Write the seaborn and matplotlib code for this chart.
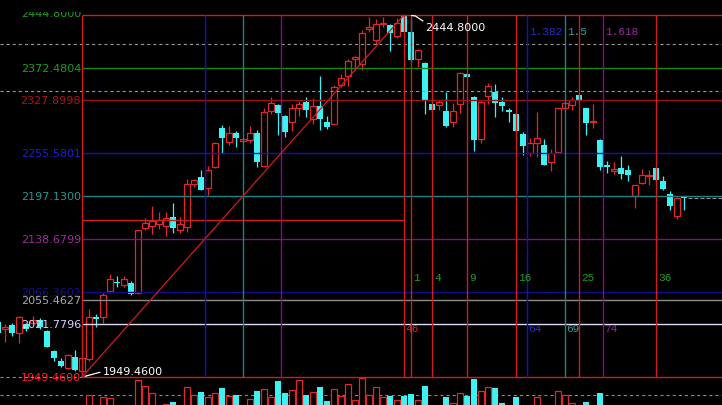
import matplotlib
matplotlib.use("Agg")
import matplotlib.pyplot as plt
import seaborn as sns
import pandas as pd
from matplotlib.transforms import Bbox, TransformedBbox

# bar index counted from the low bar (1949.46)
bar_index = list(range(-12, 87))

opens = [2025, 2015, 2020, 2010, 2022, 2024, 2027, 2013, 1985, 1972,
         1962, 1977, 1957, 1974, 2031, 2031, 2067, 2080, 2075, 2078,
         2064, 2153, 2156, 2159, 2156, 2169, 2151, 2155, 2213, 2223,
         2208, 2237, 2290, 2271, 2284, 2272, 2274, 2284, 2238, 2313,
         2321, 2306, 2298, 2318, 2326, 2302, 2320, 2299, 2296, 2349,
         2362, 2384, 2378, 2426, 2411, 2432, 2431, 2416, 2443, 2421,
         2385, 2379, 2323, 2321, 2314, 2299, 2323, 2364, 2332, 2275,
         2334, 2340, 2326, 2315, 2309, 2282, 2256, 2270, 2267, 2244,
         2258, 2317, 2322, 2335, 2318, 2299, 2274, 2239, 2231, 2235,
         2233, 2197, 2215, 2224, 2236, 2218, 2200, 2170, 2196]
highs = [2028, 2022, 2023, 2033, 2024, 2033, 2030, 2014, 1986, 1976,
         1981, 1986, 1977, 2042, 2036, 2065, 2090, 2088, 2087, 2081,
         2150, 2167, 2183, 2175, 2175, 2188, 2169, 2220, 2221, 2233,
         2238, 2271, 2294, 2293, 2286, 2277, 2293, 2287, 2317, 2332,
         2323, 2308, 2323, 2327, 2332, 2331, 2362, 2306, 2349, 2364,
         2385, 2389, 2424, 2442, 2439, 2442, 2432, 2441, 2444.8, 2440,
         2398, 2380, 2323, 2329, 2340, 2324, 2367, 2364, 2334, 2327,
         2352, 2350, 2332, 2318, 2310, 2285, 2276, 2312, 2275, 2261,
         2318, 2326, 2332, 2335, 2318, 2323, 2275, 2245, 2243, 2252,
         2239, 2212, 2234, 2233, 2237, 2224, 2204, 2196, 2197]
lows = [2008, 1998, 2005, 1996, 2012, 2020, 2015, 1990, 1971, 1963,
        1960, 1957, 1949.46, 1972, 2018, 2024, 2065, 2072, 2072, 2061,
        2063, 2150, 2145, 2152, 2143, 2147, 2147, 2148, 2209, 2206,
        2198, 2236, 2256, 2267, 2264, 2271, 2270, 2237, 2237, 2309,
        2280, 2278, 2286, 2306, 2305, 2295, 2288, 2289, 2295, 2346,
        2348, 2371, 2370, 2421, 2404, 2428, 2395, 2414, 2421, 2380,
        2373, 2309, 2314, 2315, 2291, 2292, 2311, 2360, 2259, 2270,
        2323, 2305, 2314, 2298, 2285, 2253, 2252, 2251, 2240, 2231,
        2257, 2314, 2315, 2329, 2281, 2290, 2233, 2228, 2227, 2220,
        2218, 2181, 2214, 2212, 2218, 2205, 2178, 2166, 2178]
closes = [2010, 2018, 2009, 2031, 2015, 2028, 2018, 1991, 1975, 1964,
          1979, 1959, 1976, 2031, 2029, 2062, 2084, 2078, 2083, 2063,
          2150, 2160, 2163, 2164, 2167, 2153, 2159, 2213, 2219, 2206,
          2233, 2270, 2276, 2284, 2277, 2275, 2283, 2244, 2312, 2325,
          2311, 2285, 2317, 2323, 2315, 2320, 2302, 2292, 2346, 2358,
          2382, 2387, 2420, 2428, 2433, 2434, 2420, 2434, 2422, 2383,
          2397, 2328, 2315, 2326, 2293, 2314, 2365, 2360, 2274, 2326,
          2347, 2325, 2320, 2312, 2286, 2265, 2269, 2277, 2240, 2256,
          2317, 2324, 2328, 2329, 2297, 2300, 2237, 2237, 2234, 2227,
          2226, 2212, 2226, 2226, 2219, 2207, 2183, 2195, 2194]
volumes = [8, 6, 9, 10, 7, 8, 9, 11, 7, 8,
           10, 9, 11, 22, 8, 20, 19, 8, 9, 10,
           37, 31, 24, 10, 13, 15, 9, 30, 22, 25,
           20, 24, 29, 21, 22, 12, 18, 26, 28, 20,
           36, 24, 27, 37, 22, 25, 30, 16, 28, 21,
           33, 17, 39, 22, 30, 20, 21, 17, 21, 23,
           17, 31, 8, 9, 20, 14, 24, 21, 38, 26,
           30, 29, 14, 9, 20, 10, 8, 20, 10, 9,
           26, 22, 14, 8, 15, 9, 24, 9, 8, 10,
           9, 11, 8, 9, 10, 9, 11, 10, 7]
volume_avg = 22

low_price = 1949.46
high_price = 2444.80
low_bar = 0
high_bar = 46

# fibonacci retracement levels between high and low
level_prices = [2372.4804, 2327.8998, 2255.5801, 2197.1300, 2138.6799,
                2066.3602, 2055.4627, 2021.7796]
level_labels = ["2372.4804", "2327.8998", "2255.5801", "2197.1300", "2138.6799",
                "2066.3602", "2055.4627", "2021.7796"]
level_line_colors = ["#118a11", "#a01010", "#1010c8", "#1c8282", "#880a88",
                     "#0c0c90", "#8c8c8c", "#dcdcf4"]
level_text_colors = ["#1e9e1e", "#a81818", "#1c1cd0", "#2a9494", "#a02aa0",
                     "#12128e", "#a8a8a8", "#d4d4ff"]
grey_dashed_prices = [2405.1, 2340.8]
side_line_price = 2164.3
last_price = 2194

# time zones from the high bar and ratio lines measured on the low->high span
time_zones = [1, 4, 9, 16, 25, 36]
ratios_back = [0.382, 0.5, 0.618]
ratios_ext = [1.382, 1.5, 1.618]
ratio_labels = ["1.382", "1.5", "1.618"]
ratio_bar_labels = ["64", "69", "74"]
ratio_colors = ["#1010c8", "#1c8282", "#880a88"]
ratio_text_colors = ["#2a2ad0", "#3a9a9a", "#9a2a9a"]

RED = "#e02828"
LINE_RED = "#d01c1c"
CYAN = "#3cf2f2"
GREEN_TXT = "#1e9e1e"

df = pd.DataFrame({"bar": bar_index, "open": opens, "high": highs,
                   "low": lows, "close": closes, "volume": volumes})
df["up"] = df["close"] >= df["open"]
up = df[df["up"]]
dn = df[~df["up"]]

sns.set_theme(style="dark", rc={"axes.facecolor": "black", "figure.facecolor": "black"})
plt.rcParams["font.family"] = ["DejaVu Sans"]
plt.rcParams["lines.scale_dashes"] = False

W, H = 722, 406
fig = plt.figure(figsize=(W / 100, H / 100), dpi=100)
fig.patch.set_facecolor("black")

px_per_price = (high_price - low_price) / (378 - 16)
x_left = -82 / 7
x_right = (W - 82) / 7
y_top = high_price + 16 * px_per_price
y_bot = low_price - 8 * px_per_price

ax = fig.add_axes([0, (H - 386) / H, 1, 386 / H])
ax.set_facecolor("black")
ax.set_xlim(x_left, x_right)
ax.set_ylim(y_bot, y_top)
ax.set_axis_off()

lw = 0.9

# candles
ax.vlines(dn["bar"], dn["low"], dn["high"], color=CYAN, lw=lw, zorder=2)
ax.bar(dn["bar"], (dn["open"] - dn["close"]).clip(lower=1.4), bottom=dn["close"],
       width=0.84, color=CYAN, lw=0, zorder=2)
ax.vlines(up["bar"], up["close"], up["high"], color=RED, lw=lw, zorder=2)
ax.vlines(up["bar"], up["low"], up["open"], color=RED, lw=lw, zorder=2)
ax.bar(up["bar"], (up["close"] - up["open"]).clip(lower=1.4), bottom=up["open"],
       width=0.72, facecolor="black", edgecolor=RED, lw=lw, zorder=2)

# retracement levels
for p, lab, lc, tc in zip(level_prices, level_labels, level_line_colors, level_text_colors):
    ax.hlines(p, low_bar, x_right, color=lc, lw=1.0, zorder=3)
    ax.text(low_bar - 1 / 7, p, lab, color=tc, ha="right", va="center", fontsize=8, zorder=2.5)

ax.hlines([high_price, low_price], low_bar, x_right, color=LINE_RED, lw=1.0, zorder=3)
ax.hlines(low_price, x_left, low_bar, color="#8c8c8c", lw=0.8, linestyles=(0, (2.2, 2.2)), zorder=3)
ax.hlines(side_line_price, low_bar, high_bar, color=LINE_RED, lw=1.0, zorder=3)
for p in grey_dashed_prices:
    ax.hlines(p, x_left, x_right, color="#9a9a9a", lw=0.8, linestyles=(0, (2.2, 2.2)), zorder=3)
ax.hlines(last_price, 86.6, x_right, color="#8c8c8c", lw=0.8, linestyles=(0, (2.9, 1.4)), zorder=3)

t = ax.text(low_bar - 1 / 7, high_price + 1.6 * px_per_price, "2444.8000", color=GREEN_TXT,
            ha="right", va="center", fontsize=8, zorder=2.5)
t.set_clip_box(TransformedBbox(Bbox([[0, 0], [1, (H - 12.7) / H]]), fig.transFigure))
t.set_clip_on(True)
ax.text(low_bar - 1 / 7, low_price, "1949.4600", color="#ff2020", ha="right",
        va="center", fontsize=8, zorder=1)

# vertical lines
span = high_bar - low_bar
ax.vlines([low_bar, high_bar], low_price, high_price, color=LINE_RED, lw=1.0, zorder=3)
for r, c in zip(ratios_back, ratio_colors):
    ax.vlines(low_bar + r * span, low_price, high_price, color=c, lw=1.0, zorder=3)

mono = ["Liberation Mono", "DejaVu Sans Mono"]
zone_y = high_price - (278 - 16) * px_per_price
ratio_bar_y = high_price - (329 - 16) * px_per_price
ratio_txt_y = high_price - (32 - 16) * px_per_price
for z in time_zones:
    ax.vlines(high_bar + z, low_price, high_price, color=LINE_RED, lw=1.0, zorder=3)
    ax.text(high_bar + z + 2 / 7, zone_y, str(z), color=GREEN_TXT, ha="left",
            va="center", fontsize=8, family=mono, zorder=4)
ax.text(high_bar + 1 / 7, ratio_bar_y, str(span), color=RED, ha="left", va="center",
        fontsize=8, family=mono, zorder=4)
for r, lab, blab, c, tc in zip(ratios_ext, ratio_labels, ratio_bar_labels,
                                ratio_colors, ratio_text_colors):
    xr = low_bar + r * span
    ax.vlines(xr, low_price, high_price, color=c, lw=1.0, zorder=3)
    ax.text(xr + 2 / 7, ratio_txt_y, lab, color=tc, ha="left", va="center",
            fontsize=8, family=mono, zorder=4)
    ax.text(xr + 1 / 7, ratio_bar_y, blab, color=tc, ha="left", va="center",
            fontsize=8, family=mono, zorder=4)

# trend line low -> high
trend = pd.DataFrame({"bar": [low_bar, high_bar], "price": [low_price, high_price]})
sns.lineplot(data=trend, x="bar", y="price", color=LINE_RED, lw=0.9, ax=ax, zorder=3)
ax.set_axis_off()

# extreme value notes
ax.plot([47.07, 47.6, 48.71], [2444.1, 2443.6, 2436.6], color="white", lw=0.9, zorder=4)
ax.text(49.0, 2428.4, "2444.8000", color="white", ha="left", va="center", fontsize=8, zorder=4)
ax.plot([0.43, 1.6, 2.57], [1950.4, 1953.5, 1955.9], color="white", lw=0.9, zorder=4)
ax.text(3.0, 1957.6, "1949.4600", color="white", ha="left", va="center", fontsize=8, zorder=4)

# volume panel (bottom part falls outside the figure)
vax = fig.add_axes([0, -12 / H, 1, 40 / H])
vax.set_facecolor("none")
vax.set_xlim(x_left, x_right)
vax.set_ylim(0, 40)
vax.set_axis_off()
vax.axhline(volume_avg, color="#8c8c8c", lw=0.8, linestyle=(0, (2.2, 2.2)), zorder=1)
vax.bar(dn["bar"], dn["volume"], width=0.84, color=CYAN, lw=0, zorder=2)
vax.bar(up["bar"], up["volume"], width=0.72, facecolor="black", edgecolor=RED, lw=lw, zorder=2)

fig.savefig("out.png", dpi=100, facecolor="black")
